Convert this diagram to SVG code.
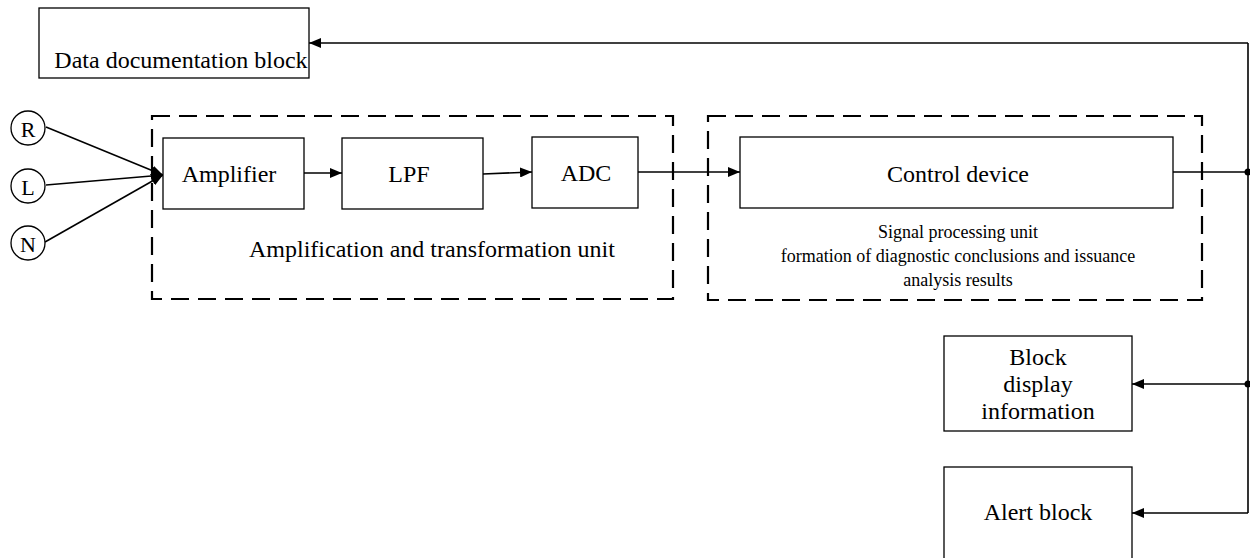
<svg xmlns="http://www.w3.org/2000/svg" width="1250" height="558" viewBox="0 0 1250 558">
<style>
.box{fill:#fff;stroke:#000;stroke-width:1.3}
.dash{fill:none;stroke:#000;stroke-width:2.2;stroke-dasharray:18 9}
.circ{fill:#fff;stroke:#000;stroke-width:1.3}
.t{font-family:"Liberation Serif","Times New Roman",serif;font-size:24px;fill:#000;text-anchor:middle}
.s{font-family:"Liberation Serif","Times New Roman",serif;font-size:18px;fill:#000;text-anchor:middle}
.ln{fill:none;stroke:#000;stroke-width:1.6}
.ar{marker-end:url(#arr)}
</style>
<defs>
<marker id="arr" viewBox="0 0 12 10" refX="12" refY="5" markerWidth="12" markerHeight="10" markerUnits="userSpaceOnUse" orient="auto">
<path d="M0,0 L12,5 L0,10 Z" fill="#000"/>
</marker>
</defs>
<g id="unit1"><rect class="dash" x="152" y="116" width="521" height="183"/><text class="t" x="432" y="257">Amplification and transformation unit</text></g>
<g id="unit2"><rect class="dash" x="708" y="116" width="494" height="184"/>
<text class="s" x="958" y="238">Signal processing unit</text>
<text class="s" x="958" y="262">formation of diagnostic conclusions and issuance</text>
<text class="s" x="958" y="286">analysis results</text></g>
<g id="connectors">
<line class="ln ar" x1="46" y1="127" x2="163" y2="175"/>
<line class="ln ar" x1="46" y1="185" x2="163" y2="175"/>
<line class="ln ar" x1="45" y1="242" x2="163" y2="175"/>
<line class="ln ar" x1="304" y1="173" x2="342" y2="173"/>
<line class="ln ar" x1="483" y1="174" x2="532" y2="172"/>
<line class="ln ar" x1="638" y1="172" x2="740" y2="172"/>
<polyline class="ln" points="1173,172 1248,172"/>
<polyline class="ln" points="1248,513 1248,43"/>
<line class="ln ar" x1="1248" y1="43" x2="309" y2="43"/>
<line class="ln ar" x1="1248" y1="384" x2="1132" y2="384"/>
<line class="ln ar" x1="1248" y1="513" x2="1132" y2="513"/>
<circle cx="1248" cy="172" r="3.5" fill="#000"/>
<circle cx="1248" cy="384" r="3.5" fill="#000"/>
</g>
<g id="data"><rect class="box" x="39" y="8" width="270" height="70"/><text class="t" x="181" y="68">Data documentation block</text></g>
<g id="R"><circle class="circ" cx="28" cy="128" r="17"/><text class="t" x="28" y="136.5" style="font-size:22px">R</text></g>
<g id="L"><circle class="circ" cx="28" cy="186" r="17"/><text class="t" x="28" y="194.5" style="font-size:22px">L</text></g>
<g id="N"><circle class="circ" cx="28" cy="243" r="17"/><text class="t" x="28" y="251.5" style="font-size:22px">N</text></g>
<g id="amp"><rect class="box" x="163" y="138" width="141" height="71"/><text class="t" x="229" y="182">Amplifier</text></g>
<g id="lpf"><rect class="box" x="342" y="138" width="141" height="71"/><text class="t" x="409" y="182">LPF</text></g>
<g id="adc"><rect class="box" x="532" y="137" width="106" height="71"/><text class="t" x="586" y="181">ADC</text></g>
<g id="ctrl"><rect class="box" x="740" y="137" width="433" height="71"/><text class="t" x="958" y="182">Control device</text></g>
<g id="display"><rect class="box" x="944" y="336" width="188" height="95"/>
<text class="t" x="1038" y="365">Block</text><text class="t" x="1038" y="392">display</text><text class="t" x="1038" y="419">information</text></g>
<g id="alert"><rect class="box" x="944" y="467" width="188" height="100"/><text class="t" x="1038" y="520">Alert block</text></g>
</svg>
